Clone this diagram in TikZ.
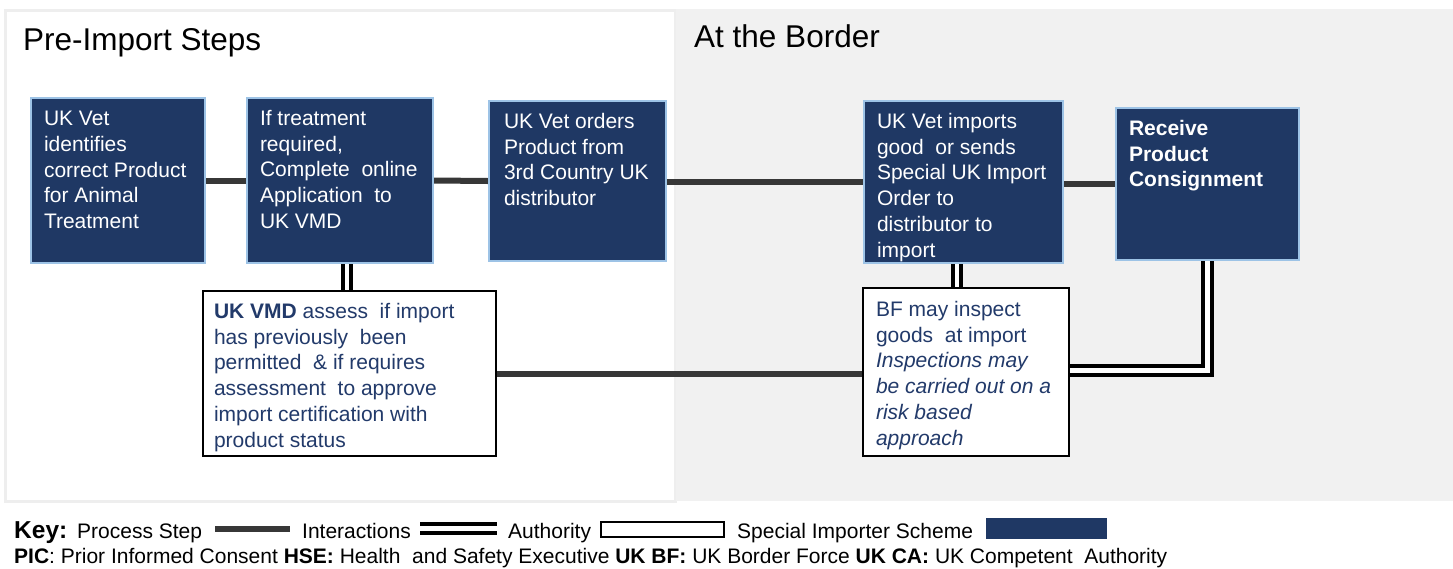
\documentclass[tikz,border=0pt]{standalone}
\usepackage{fontspec}
\setmainfont{Liberation Sans}
\definecolor{navy}{RGB}{31,56,100}
\definecolor{navytext}{RGB}{34,58,106}
\definecolor{edgeblue}{RGB}{157,195,230}
\definecolor{panelgray}{RGB}{241,241,241}
\definecolor{paneledge}{RGB}{238,238,238}
\definecolor{procgray}{RGB}{55,55,55}
\pgfdeclarelayer{back}
\pgfdeclarelayer{links}
\pgfsetlayers{back,links,main}
% #1 width, #2 height, #3 top pad, #4 left pad, #5 text
\newcommand{\bxt}[5]{\parbox[c][#2][t]{#1}{\vspace*{#3}\raggedright\leftskip=#4\relax\fontsize{21}{25.8}\selectfont #5}}
\begin{document}
\begin{tikzpicture}[x=1pt,y=-1pt,
  stepbox/.style={draw=edgeblue, line width=2pt, fill=navy, text=white, inner sep=0pt, anchor=north west},
  authbox/.style={draw=black, line width=2pt, fill=white, text=navytext, inner sep=0pt, anchor=north west},
  proc/.style={draw=procgray, line width=6pt},
  inter/.style={draw=black, double=white, double distance=4.5pt, line width=4pt},
  ttl/.style={inner sep=0pt, anchor=base west, font=\fontsize{31.5}{36}\selectfont},
  keytxt/.style={inner sep=0pt, anchor=base west, font=\fontsize{21}{25}\selectfont}
]
\useasboundingbox (0,0) rectangle (1453,568);
\begin{pgfonlayer}{back}
\fill[white] (0,0) rectangle (1453,568);
\draw[paneledge, line width=3pt] (5,10) rectangle (675,501);
\fill[panelgray] (676,9) rectangle (1453,501);
\end{pgfonlayer}

\node[ttl] (t1) at (23,50) {Pre-Import Steps};
\node[ttl] (t2) at (694,47) {At the Border};

\node[stepbox] (A) at (30,97) {\bxt{174pt}{165pt}{13pt}{13pt}{UK Vet\\identifies\\correct Product\\for Animal\\Treatment}};
\node[stepbox] (B) at (246,97) {\bxt{186pt}{165pt}{12pt}{13pt}{If treatment\\required,\\Complete\ \ online\\Application\ \ to\\UK VMD}};
\node[stepbox] (C) at (488,100) {\bxt{177pt}{160pt}{12pt}{15pt}{UK Vet orders\\Product from\\3rd Country UK\\distributor}};
\node[stepbox] (D) at (863,100) {\bxt{199pt}{162pt}{12pt}{13pt}{UK Vet imports\\good\ \ or sends\\Special UK Import\\Order to\\distributor to\\import}};
\node[stepbox] (E) at (1115,107) {\bxt{183pt}{152pt}{12pt}{13pt}{\bfseries Receive\\Product\\Consignment}};

\node[authbox] (F) at (202,290) {\bxt{293pt}{165pt}{12pt}{11pt}{\textbf{UK VMD} assess\ \ if import\\has previously\ \ been\\permitted\ \ \& if requires\\assessment\ \ to approve\\import certification with\\product status}};
\node[authbox] (G) at (862,287) {\bxt{206pt}{168pt}{13pt}{13pt}{BF may inspect\\goods\ \ at import\\\textit{Inspections may}\\\textit{be carried out on a}\\\textit{risk based}\\\textit{approach}}};

\begin{pgfonlayer}{links}
\draw[proc] (A.east) -- (B.west);
\draw[proc] (B.east) -- (C.west);
\draw[proc] (D.west) -- (D.west -| C.east);
\draw[proc] (E.west) -- (E.west -| D.east);
\draw[proc] (F.east) -- (F.east -| G.west);
\draw[inter] ([xshift=-2.5pt]F.north) -- ([xshift=-2.5pt]F.north |- B.south);
\draw[inter] ([xshift=-9pt]G.north) -- ([xshift=-9pt]G.north |- D.south);
\draw[inter] (E.south) |- ([yshift=1.5pt]G.east);
\end{pgfonlayer}

% key
\node[keytxt, font=\fontsize{24.5}{28}\selectfont\bfseries] (k0) at (14,538) {Key:};
\node[keytxt] (k1) at (77,538) {Process Step};
\coordinate (p1) at (215,529);
\coordinate (p2) at (290,529);
\draw[proc] (p1) -- (p2);
\node[keytxt] (k2) at (302,538) {Interactions};
\coordinate (i1) at (420,528.5);
\coordinate (i2) at (497,528.5);
\draw[inter] (i1) -- (i2);
\node[keytxt] (k3) at (508,538) {Authority};
\node[authbox, minimum width=123pt, minimum height=15pt] (kA) at (600,521) {};
\node[keytxt] (k4) at (737,538) {Special Importer Scheme};
\node[draw=navy, fill=navy, inner sep=0pt, anchor=north west, minimum width=120pt, minimum height=20pt] (kS) at (986,518) {};
\node[keytxt, font=\fontsize{21}{25}\selectfont] (k5) at (14,563) {\textbf{PIC}: Prior Informed Consent \textbf{HSE:} Health\ \ and Safety Executive \textbf{UK BF:} UK Border Force \textbf{UK CA:} UK Competent\ \ Authority};
\end{tikzpicture}
\end{document}
